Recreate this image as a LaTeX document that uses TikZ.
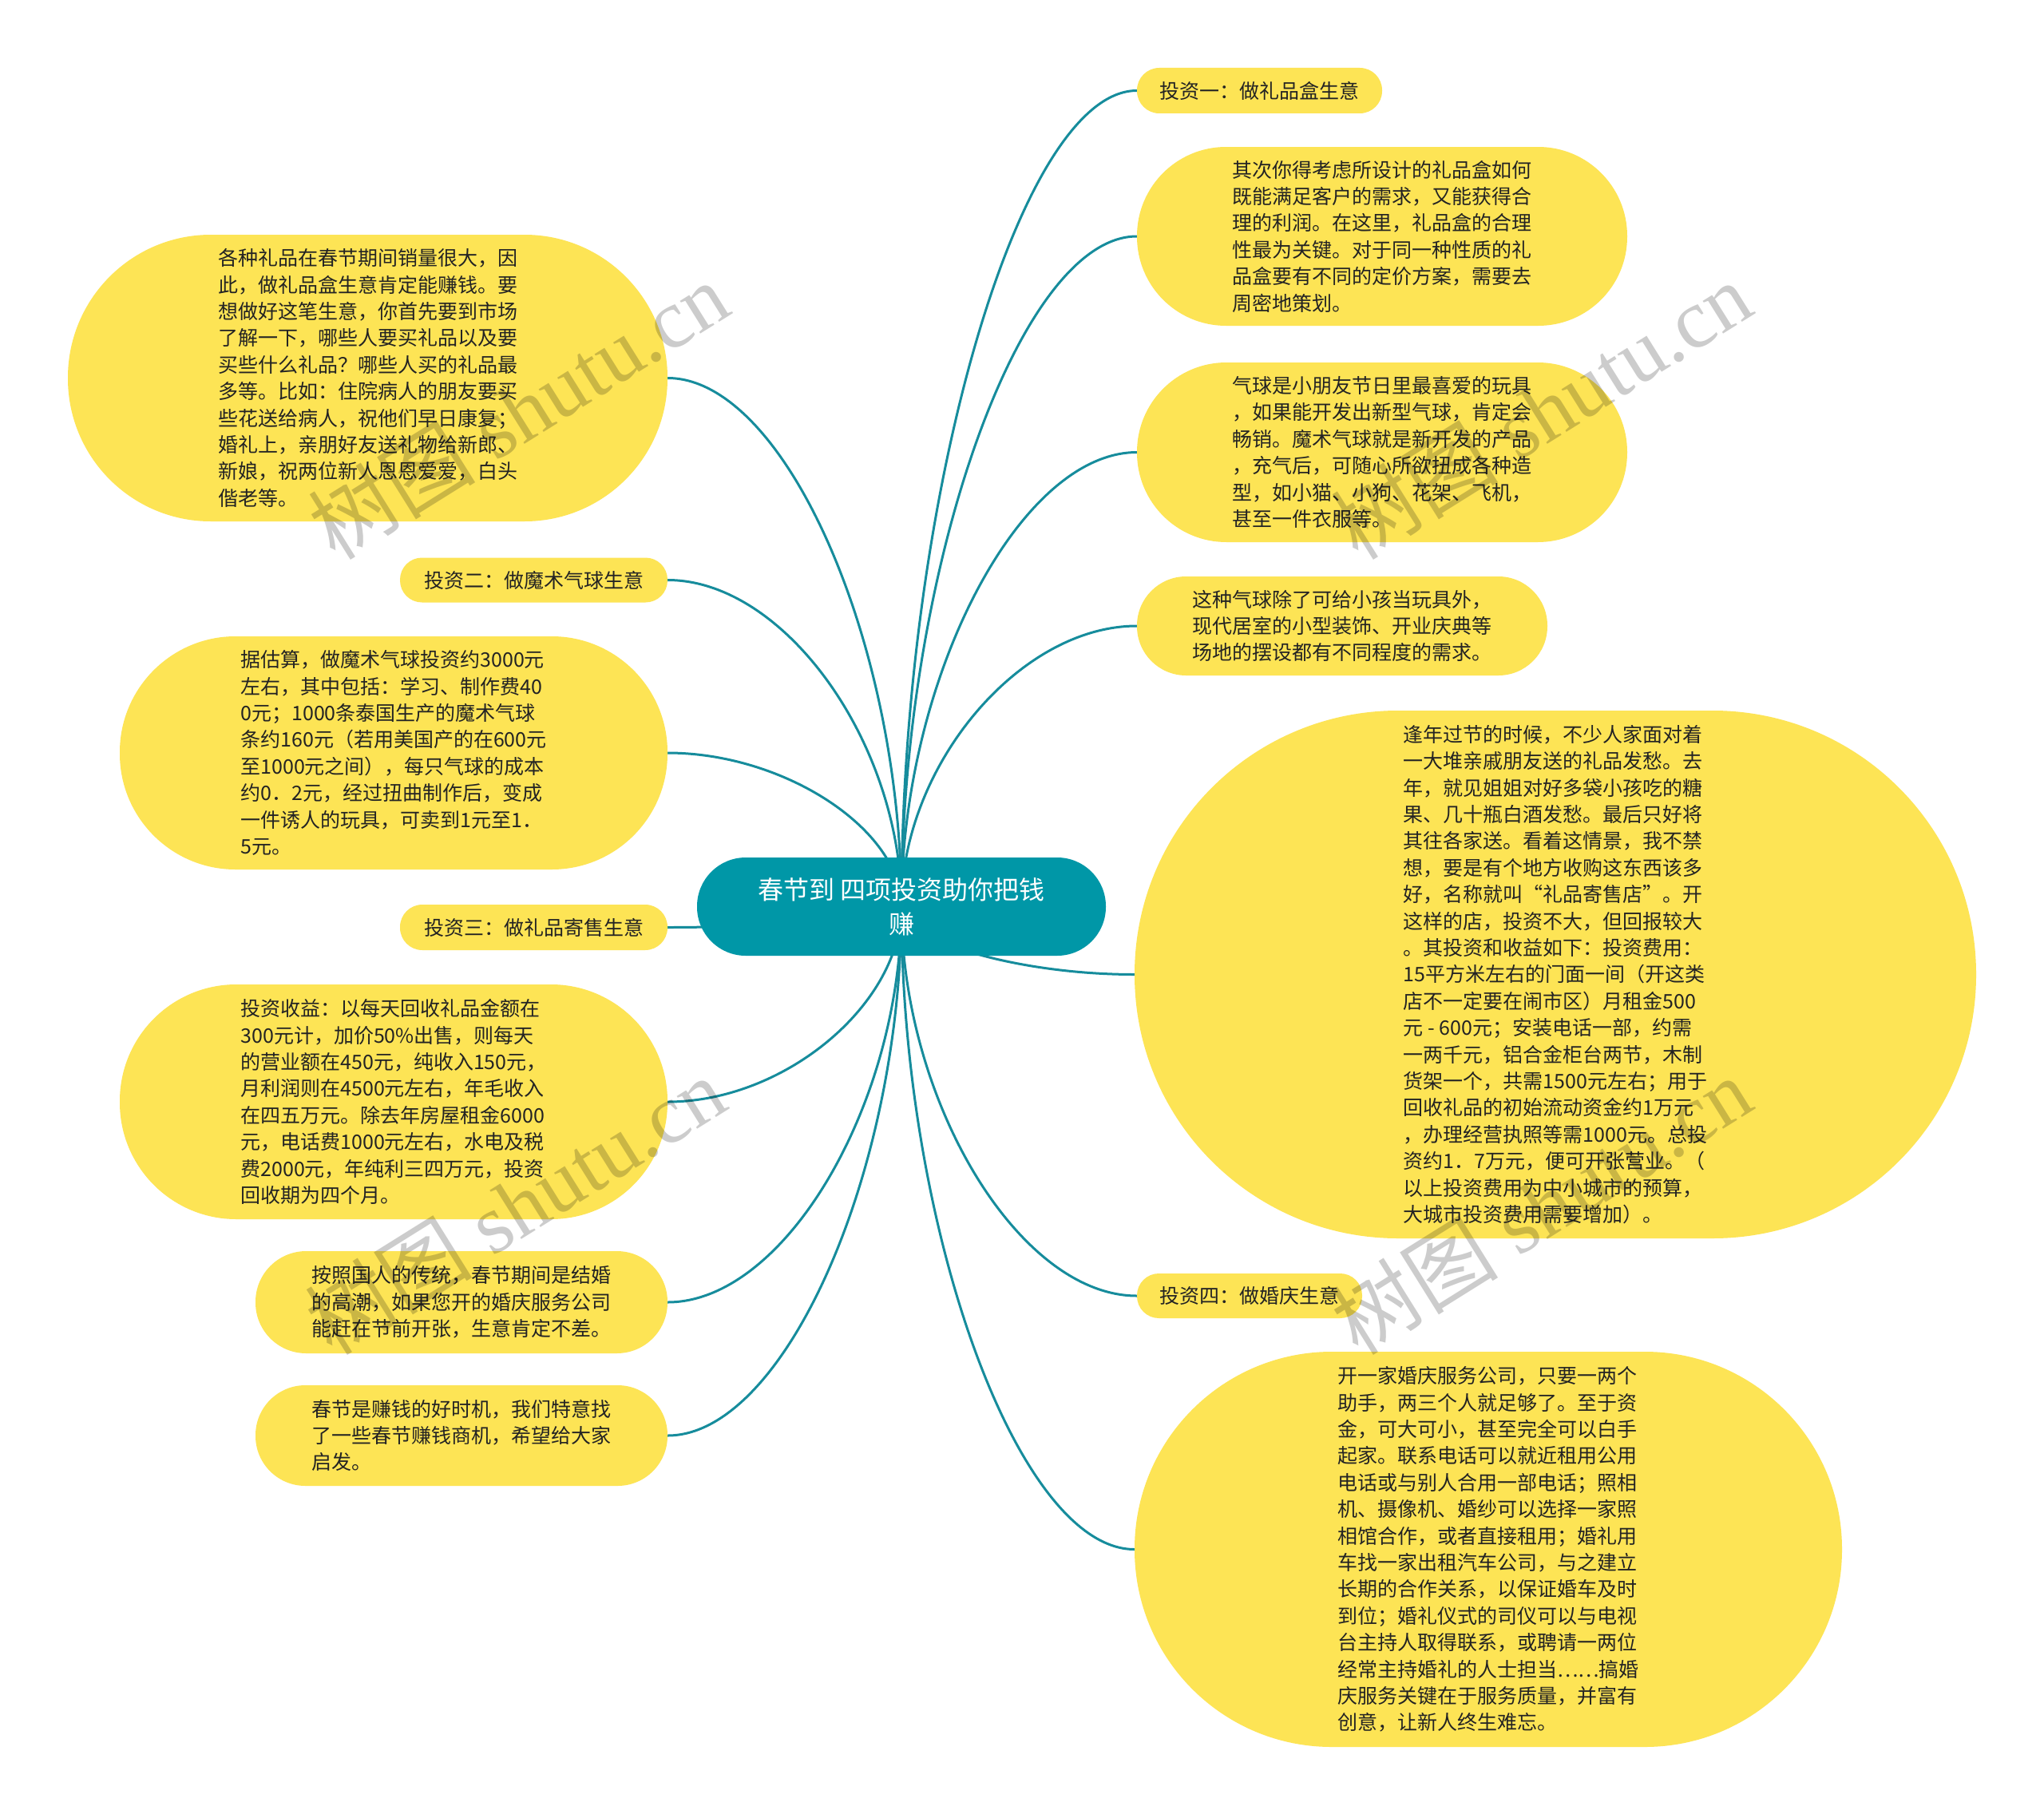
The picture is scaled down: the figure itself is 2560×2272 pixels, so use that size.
\documentclass[tikz,border=0pt]{standalone}
\usepackage{fontspec}
\newfontfamily\cjk{Noto Sans CJK SC}
\newfontfamily\wmserif{Liberation Serif}
\usetikzlibrary{calc}
\pgfdeclarelayer{bg}
\pgfsetlayers{bg,main}
\definecolor{yel}{RGB}{253,228,85}
\definecolor{tealc}{RGB}{0,151,167}
\definecolor{linkc}{RGB}{22,140,156}
\definecolor{txt}{RGB}{35,35,35}
\tikzset{
  bubble/.style={fill=yel, text=txt, inner sep=0pt, align=left,
    font=\cjk\fontsize{25}{33.4}\selectfont},
  topic/.style={fill=tealc, text=white, inner sep=0pt, align=center,
    font=\cjk\fontsize{32}{43}\selectfont},
  link/.style={draw=linkc, line width=3pt},
  wm/.style={text=black, text opacity=0.2, inner sep=0pt,
    font=\wmserif\fontsize{105}{105}\selectfont}
}
\newcommand\mmlink[2]{\draw[link] (#1.center) .. controls ($(#1.center)!0.5!(#1.center|-#2)$) and ($(#2)!0.5!(#1.center|-#2)$) .. (#2);}
\begin{document}
\begin{tikzpicture}[x=1pt,y=-1pt]
\useasboundingbox (0,0) rectangle (2560,2272);

% central topic
\node[topic, minimum width=512pt, minimum height=123pt, rounded corners=61pt] (C) at (1129,1135.5) {春节到 四项投资助你把钱\\赚};

% left side
\node[bubble, minimum width=751pt, minimum height=359pt, rounded corners=179pt] (L1) at (460.5,473.5) {各种礼品在春节期间销量很大，因\\此，做礼品盒生意肯定能赚钱。要\\想做好这笔生意，你首先要到市场\\了解一下，哪些人要买礼品以及要\\买些什么礼品？哪些人买的礼品最\\多等。比如：住院病人的朋友要买\\些花送给病人，祝他们早日康复；\\婚礼上，亲朋好友送礼物给新郎、\\新娘，祝两位新人恩恩爱爱，白头\\偕老等。};
\node[bubble, minimum width=335pt, minimum height=56pt, rounded corners=27.5pt] (L2) at (668.5,726.5) {投资二：做魔术气球生意};
\node[bubble, minimum width=686pt, minimum height=292pt, rounded corners=145pt] (L3) at (493,943) {据估算，做魔术气球投资约3000元\\左右，其中包括：学习、制作费40\\0元；1000条泰国生产的魔术气球\\条约160元（若用美国产的在600元\\至1000元之间），每只气球的成本\\约0．2元，经过扭曲制作后，变成\\一件诱人的玩具，可卖到1元至1．\\5元。};
\node[bubble, minimum width=335pt, minimum height=57pt, rounded corners=28pt] (L4) at (668.5,1161.5) {投资三：做礼品寄售生意};
\node[bubble, minimum width=686pt, minimum height=294pt, rounded corners=146pt] (L5) at (493,1380) {投资收益：以每天回收礼品金额在\\300元计，加价50\%出售，则每天\\的营业额在450元，纯收入150元，\\月利润则在4500元左右，年毛收入\\在四五万元。除去年房屋租金6000\\元，电话费1000元左右，水电及税\\费2000元，年纯利三四万元，投资\\回收期为四个月。};
\node[bubble, minimum width=516pt, minimum height=128pt, rounded corners=63.5pt] (L6) at (578,1631) {按照国人的传统，春节期间是结婚\\的高潮，如果您开的婚庆服务公司\\能赶在节前开张，生意肯定不差。};
\node[bubble, minimum width=516pt, minimum height=126pt, rounded corners=62.5pt] (L7) at (578,1798) {春节是赚钱的好时机，我们特意找\\了一些春节赚钱商机，希望给大家\\启发。};

% right side
\node[bubble, minimum width=307pt, minimum height=57pt, rounded corners=28pt] (R1) at (1577.5,113.5) {投资一：做礼品盒生意};
\node[bubble, minimum width=614pt, minimum height=224pt, rounded corners=111.5pt] (R2) at (1731,296) {其次你得考虑所设计的礼品盒如何\\既能满足客户的需求，又能获得合\\理的利润。在这里，礼品盒的合理\\性最为关键。对于同一种性质的礼\\品盒要有不同的定价方案，需要去\\周密地策划。};
\node[bubble, minimum width=614pt, minimum height=225pt, rounded corners=112pt] (R3) at (1731,566.5) {气球是小朋友节日里最喜爱的玩具\\，如果能开发出新型气球，肯定会\\畅销。魔术气球就是新开发的产品\\，充气后，可随心所欲扭成各种造\\型，如小猫、小狗、花架、飞机，\\甚至一件衣服等。};
\node[bubble, minimum width=514pt, minimum height=124pt, rounded corners=61.5pt] (R4) at (1681,784) {这种气球除了可给小孩当玩具外，\\现代居室的小型装饰、开业庆典等\\场地的摆设都有不同程度的需求。};
\node[bubble, minimum width=1054pt, minimum height=661pt, rounded corners=330pt] (R5) at (1948,1220.5) {逢年过节的时候，不少人家面对着\\一大堆亲戚朋友送的礼品发愁。去\\年，就见姐姐对好多袋小孩吃的糖\\果、几十瓶白酒发愁。最后只好将\\其往各家送。看着这情景，我不禁\\想，要是有个地方收购这东西该多\\好，名称就叫“礼品寄售店”。开\\这样的店，投资不大，但回报较大\\。其投资和收益如下：投资费用：\\15平方米左右的门面一间（开这类\\店不一定要在闹市区）月租金500\\元 - 600元；安装电话一部，约需\\一两千元，铝合金柜台两节，木制\\货架一个，共需1500元左右；用于\\回收礼品的初始流动资金约1万元\\，办理经营执照等需1000元。总投\\资约1．7万元，便可开张营业。（\\以上投资费用为中小城市的预算，\\大城市投资费用需要增加）。};
\node[bubble, minimum width=282pt, minimum height=56pt, rounded corners=27.5pt] (R6) at (1565,1623) {投资四：做婚庆生意};
\node[bubble, minimum width=886pt, minimum height=495pt, rounded corners=247pt] (R7) at (1864,1940.5) {开一家婚庆服务公司，只要一两个\\助手，两三个人就足够了。至于资\\金，可大可小，甚至完全可以白手\\起家。联系电话可以就近租用公用\\电话或与别人合用一部电话；照相\\机、摄像机、婚纱可以选择一家照\\相馆合作，或者直接租用；婚礼用\\车找一家出租汽车公司，与之建立\\长期的合作关系，以保证婚车及时\\到位；婚礼仪式的司仪可以与电视\\台主持人取得联系，或聘请一两位\\经常主持婚礼的人士担当……搞婚\\庆服务关键在于服务质量，并富有\\创意，让新人终生难忘。};

% background and connectors
\begin{pgfonlayer}{bg}
\fill[white] (0,0) rectangle (2560,2272);
\mmlink{C}{L1.east}
\mmlink{C}{L2.east}
\mmlink{C}{L3.east}
\mmlink{C}{L4.east}
\mmlink{C}{L5.east}
\mmlink{C}{L6.east}
\mmlink{C}{L7.east}
\mmlink{C}{R1.west}
\mmlink{C}{R2.west}
\mmlink{C}{R3.west}
\mmlink{C}{R4.west}
\mmlink{C}{R5.west}
\mmlink{C}{R6.west}
\mmlink{C}{R7.west}
\end{pgfonlayer}

% watermarks
\node[wm, rotate=32] (W1) at (649,514) {{\cjk 树图} shutu.cn};
\node[wm, rotate=32] (W2) at (1930,514) {{\cjk 树图} shutu.cn};
\node[wm, rotate=32] (W3) at (645,1510) {{\cjk 树图} shutu.cn};
\node[wm, rotate=32] (W4) at (1930,1510) {{\cjk 树图} shutu.cn};
\end{tikzpicture}
\end{document}
